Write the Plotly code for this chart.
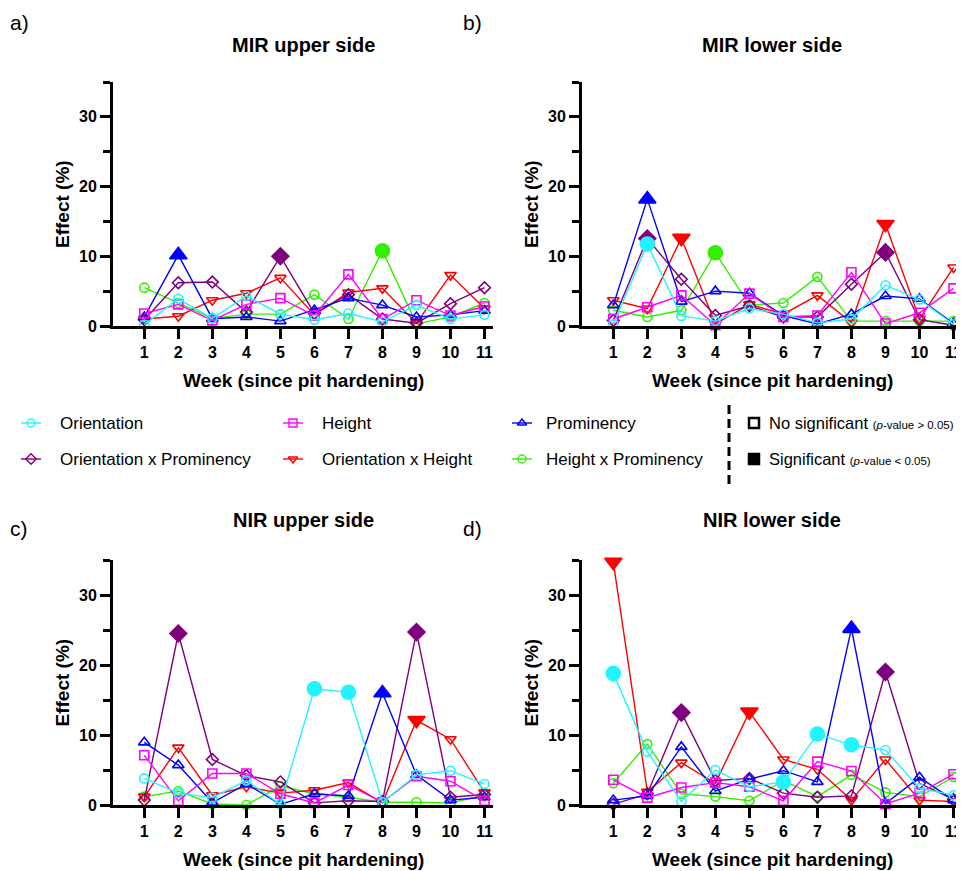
import plotly.graph_objects as go

SCREEN_W, SCREEN_H = 964, 871
OFF = 8  # default page body margin in the browser
W, H = SCREEN_W - OFF, SCREEN_H - OFF
FONT = "Arial, Liberation Sans, sans-serif"

WEEKS = list(range(1, 12))
WEEK_LABELS = [str(w) for w in WEEKS]
Y_TICKS = [0, 10, 20, 30]
Y_LABELS = ["0", "10", "20", "30"]

SERIES = ["Orientation", "Height", "Prominency",
          "Orientation x Prominency", "Orientation x Height", "Height x Prominency"]

# ---- Panel a: MIR upper side
A_ORIENTATION = [0.2, 3.9, 1.1, 4.3, 1.7, 0.9, 1.8, 0.6, 3.0, 1.0, 1.6]
A_HEIGHT = [1.8, 3.1, 0.8, 3.1, 4.0, 1.5, 7.4, 1.0, 3.7, 1.5, 2.8]
A_PROMINENCY = [1.3, 10.2, 1.05, 1.3, 0.7, 2.3, 4.0, 3.0, 1.3, 1.6, 2.2]
A_OXP = [0.9, 6.2, 6.3, 2.0, 10.0, 1.8, 4.5, 1.0, 0.4, 3.2, 5.5]
A_OXH = [1.0, 1.4, 3.7, 4.7, 6.9, 1.6, 4.8, 5.4, 0.4, 7.3, 2.5]
A_HXP = [5.5, 3.3, 1.1, 1.7, 1.7, 4.5, 1.0, 10.8, 0.3, 1.3, 3.3]
A_SIG = {"Prominency": [2], "Orientation x Prominency": [5], "Height x Prominency": [8]}

# ---- Panel b: MIR lower side
B_ORIENTATION = [0.25, 11.75, 1.45, 0.7, 2.5, 1.7, 0.45, 1.0, 5.85, 3.8, 0.25]
B_HEIGHT = [1.0, 2.7, 4.4, 0.1, 4.65, 1.3, 1.5, 7.7, 0.35, 1.9, 5.4]
B_PROMINENCY = [3.0, 18.2, 3.5, 5.0, 4.7, 1.5, 0.3, 1.7, 4.3, 3.9, 0.4]
B_OXP = [0.8, 12.55, 6.7, 1.5, 2.9, 1.3, 1.3, 6.0, 10.55, 0.9, 0.1]
B_OXH = [3.7, 2.5, 12.6, 0.3, 3.1, 1.7, 4.4, 0.5, 14.6, 1.0, 8.4]
B_HXP = [2.25, 1.3, 2.25, 10.5, 3.0, 3.3, 7.05, 0.7, 0.7, 0.7, 0.7]
B_SIG = {"Orientation": [2], "Prominency": [2], "Orientation x Prominency": [2, 9],
         "Orientation x Height": [3, 9], "Height x Prominency": [4]}

# ---- Panel c: NIR upper side
C_ORIENTATION = [3.8, 1.7, 1.05, 3.5, 0.1, 16.6, 16.1, 0.4, 4.3, 4.9, 3.0]
C_HEIGHT = [7.1, 0.6, 4.5, 4.5, 1.6, 0.3, 2.85, 0.4, 4.1, 3.4, 0.6]
C_PROMINENCY = [8.95, 5.7, 0.35, 3.0, 0.1, 1.6, 1.3, 16.0, 4.3, 0.7, 1.1]
C_OXP = [0.7, 24.5, 6.5, 4.2, 3.3, 0.3, 0.6, 0.5, 24.7, 1.1, 1.5]
C_OXH = [1.2, 8.2, 1.4, 2.6, 1.7, 2.1, 3.2, 0.3, 12.1, 9.4, 1.8]
C_HXP = [1.2, 2.0, 0.15, 0.0, 2.7, 1.6, 1.1, 0.4, 0.4, 0.3, 1.4]
C_SIG = {"Orientation": [6, 7], "Prominency": [8], "Orientation x Prominency": [2, 9],
         "Orientation x Height": [9]}

# ---- Panel d: NIR lower side
D_ORIENTATION = [18.8, 7.6, 0.5, 5.0, 2.6, 3.3, 10.15, 8.6, 7.85, 2.4, 1.4]
D_HEIGHT = [3.6, 1.05, 2.5, 3.2, 2.6, 0.6, 6.2, 4.85, 0.15, 1.7, 4.4]
D_PROMINENCY = [0.7, 1.3, 8.3, 2.0, 3.7, 4.9, 3.3, 25.2, 0.2, 3.95, 0.7]
D_OXP = [0.1, 1.6, 13.2, 3.5, 3.8, 1.7, 1.1, 1.3, 19.0, 3.1, 0.8]
D_OXH = [34.7, 1.9, 6.05, 3.1, 13.3, 6.5, 5.1, 0.7, 6.5, 0.7, 0.5]
D_HXP = [3.1, 8.7, 1.6, 1.2, 0.6, 3.5, 1.2, 4.3, 1.8, 1.2, 4.0]
D_SIG = {"Orientation": [1, 6, 7, 8], "Prominency": [8], "Orientation x Prominency": [3, 9],
         "Orientation x Height": [1, 5]}

COLORS = {"Orientation": "#22F4FF", "Height": "#FF00FF", "Prominency": "#0000FF",
          "Orientation x Prominency": "#7F007F", "Orientation x Height": "#FF0000",
          "Height x Prominency": "#33F000"}
SYMBOLS = {"Orientation": "circle", "Height": "square", "Prominency": "triangle-up",
           "Orientation x Prominency": "diamond", "Orientation x Height": "triangle-down",
           "Height x Prominency": "circle"}
OPEN_SIZE = {"circle": 9, "square": 9, "triangle-up": 10, "diamond": 9, "triangle-down": 10}
FILL_SIZE = {"circle": 14, "square": 13, "triangle-up": 15, "diamond": 13, "triangle-down": 15}

# panel boxes in screen pixels (left, top, right, bottom)
PANELS = [
    dict(label="a)", title="MIR upper side", box=(113, 82, 493, 326), lab_x=8,
         data=[A_ORIENTATION, A_HEIGHT, A_PROMINENCY, A_OXP, A_OXH, A_HXP], sig=A_SIG),
    dict(label="b)", title="MIR lower side", box=(582, 82, 962, 326), lab_x=461,
         data=[B_ORIENTATION, B_HEIGHT, B_PROMINENCY, B_OXP, B_OXH, B_HXP], sig=B_SIG),
    dict(label="c)", title="NIR upper side", box=(113, 560, 493, 805), lab_x=8,
         data=[C_ORIENTATION, C_HEIGHT, C_PROMINENCY, C_OXP, C_OXH, C_HXP], sig=C_SIG),
    dict(label="d)", title="NIR lower side", box=(582, 560, 962, 805), lab_x=461,
         data=[D_ORIENTATION, D_HEIGHT, D_PROMINENCY, D_OXP, D_OXH, D_HXP], sig=D_SIG),
]

DRAW_ORDER = ["Height x Prominency", "Orientation x Height", "Orientation x Prominency",
              "Prominency", "Height", "Orientation"]


def px_x(sx):
    return (sx - OFF) / W


def px_y(sy):
    return 1 - (sy - OFF) / H


fig = go.Figure()
layout = dict(template="none", width=W, height=H,
              margin=dict(l=0, r=0, t=0, b=0, pad=0, autoexpand=False),
              paper_bgcolor="white", plot_bgcolor="rgba(0,0,0,0)", showlegend=False,
              font=dict(family=FONT, color="black"))
annotations = []

for i, p in enumerate(PANELS):
    n = i + 1
    xs = "" if n == 1 else str(n)
    x0, y0, x1, y1 = p["box"]
    xdom = [px_x(x0), min(1.0, px_x(x1))]
    ydom = [px_y(y1), px_y(y0)]
    layout["xaxis" + xs] = dict(
        domain=xdom, anchor="y" + xs, range=[0.08, 11.25], automargin=False,
        tickmode="array", tickvals=WEEKS, ticktext=WEEK_LABELS,
        ticks="outside", ticklen=10, tickwidth=3, tickcolor="black",
        showline=True, linewidth=3, linecolor="black",
        showgrid=False, zeroline=False, fixedrange=True,
        tickfont=dict(family=FONT, size=16, color="black", weight="bold"))
    layout["yaxis" + xs] = dict(
        domain=ydom, anchor="x" + xs, range=[0, 35], automargin=False,
        tickmode="array", tickvals=Y_TICKS, ticktext=Y_LABELS,
        ticks="outside", ticklen=10, tickwidth=3, tickcolor="black",
        showline=True, linewidth=3, linecolor="black",
        showgrid=False, zeroline=False, fixedrange=True,
        minor=dict(tickmode="linear", tick0=5, dtick=10, ticks="outside",
                   ticklen=7, tickwidth=3, tickcolor="black", showgrid=False),
        tickfont=dict(family=FONT, size=16, color="black", weight="bold"))

    for name in DRAW_ORDER:
        vals = p["data"][SERIES.index(name)]
        sig = p["sig"].get(name, [])
        base = SYMBOLS[name]
        syms = [base if w in sig else base + "-open" for w in WEEKS]
        sizes = [FILL_SIZE[base] if w in sig else OPEN_SIZE[base] for w in WEEKS]
        fig.add_trace(go.Scatter(
            x=WEEKS, y=vals, mode="lines+markers", name=name,
            xaxis="x" + xs, yaxis="y" + xs, cliponaxis=False,
            line=dict(color=COLORS[name], width=1.4),
            marker=dict(symbol=syms, size=sizes, color=COLORS[name], opacity=1,
                        line=dict(color=COLORS[name], width=1.6))))

    cx = (x0 + x1) / 2
    top_row = y0 < 300
    annotations.append(dict(text="<b>%s</b>" % p["title"], x=cx, y=45 if top_row else 520,
                            xref="x5", yref="y5", showarrow=False,
                            font=dict(size=20, family=FONT)))
    annotations.append(dict(text=p["label"], x=p["lab_x"], y=22 if top_row else 528,
                            xref="x5", yref="y5", showarrow=False, xanchor="left",
                            font=dict(size=21, family=FONT)))
    annotations.append(dict(text="<b>Week (since pit hardening)</b>", x=cx,
                            y=y1 + 54, xref="x5", yref="y5", showarrow=False,
                            font=dict(size=19, family=FONT)))
    annotations.append(dict(text="<b>Effect (%)</b>", x=x0 - 51, y=(y0 + y1) / 2,
                            xref="x5", yref="y5", showarrow=False, textangle=-90,
                            font=dict(size=19, family=FONT)))

# ---- legend drawn on a hidden axis whose units are screen pixels
layout["xaxis5"] = dict(domain=[0, 1], anchor="y5", range=[OFF, SCREEN_W], visible=False,
                        fixedrange=True, automargin=False)
layout["yaxis5"] = dict(domain=[0, 1], anchor="x5", range=[SCREEN_H, OFF], visible=False,
                        fixedrange=True, automargin=False)

LEG_POS = {"Orientation": (31, 423), "Height": (293, 423), "Prominency": (522, 423),
           "Orientation x Prominency": (31, 459), "Orientation x Height": (293, 459),
           "Height x Prominency": (522, 459)}
for name in SERIES:
    lx, ly = LEG_POS[name]
    fig.add_trace(go.Scatter(x=[lx - 10, lx + 10], y=[ly, ly], mode="lines",
                             xaxis="x5", yaxis="y5", hoverinfo="skip",
                             line=dict(color=COLORS[name], width=1.4)))
    fig.add_trace(go.Scatter(x=[lx], y=[ly], mode="markers", xaxis="x5", yaxis="y5",
                             hoverinfo="skip",
                             marker=dict(symbol=SYMBOLS[name] + "-open", size=8,
                                         color=COLORS[name],
                                         line=dict(color=COLORS[name], width=1.4))))
    annotations.append(dict(text=name, x=lx + 27 if lx < 500 else lx + 22, y=ly,
                            xref="x5", yref="y5", showarrow=False, xanchor="left",
                            font=dict(size=17, family=FONT)))

fig.add_trace(go.Scatter(x=[729, 729], y=[405, 488], mode="lines", xaxis="x5", yaxis="y5",
                         hoverinfo="skip", line=dict(color="black", width=3, dash="9px,5px")))
fig.add_trace(go.Scatter(x=[754, 754], y=[423, 459], mode="markers", xaxis="x5", yaxis="y5",
                         hoverinfo="skip",
                         marker=dict(symbol=["square-open", "square"], size=10, color="black",
                                     line=dict(color="black", width=2.5))))
annotations.append(dict(
    text="No significant <span style='font-size:11.5px'>(<i>p</i>-value &gt; 0.05)</span>",
    x=767, y=423, xref="x5", yref="y5", showarrow=False, xanchor="left",
    font=dict(size=16.5, family=FONT)))
annotations.append(dict(
    text="Significant <span style='font-size:11.5px'>(<i>p</i>-value &lt; 0.05)</span>",
    x=767, y=459, xref="x5", yref="y5", showarrow=False, xanchor="left",
    font=dict(size=16.5, family=FONT)))

layout["annotations"] = annotations
fig.update_layout(**layout)
fig.write_html("out.html")
